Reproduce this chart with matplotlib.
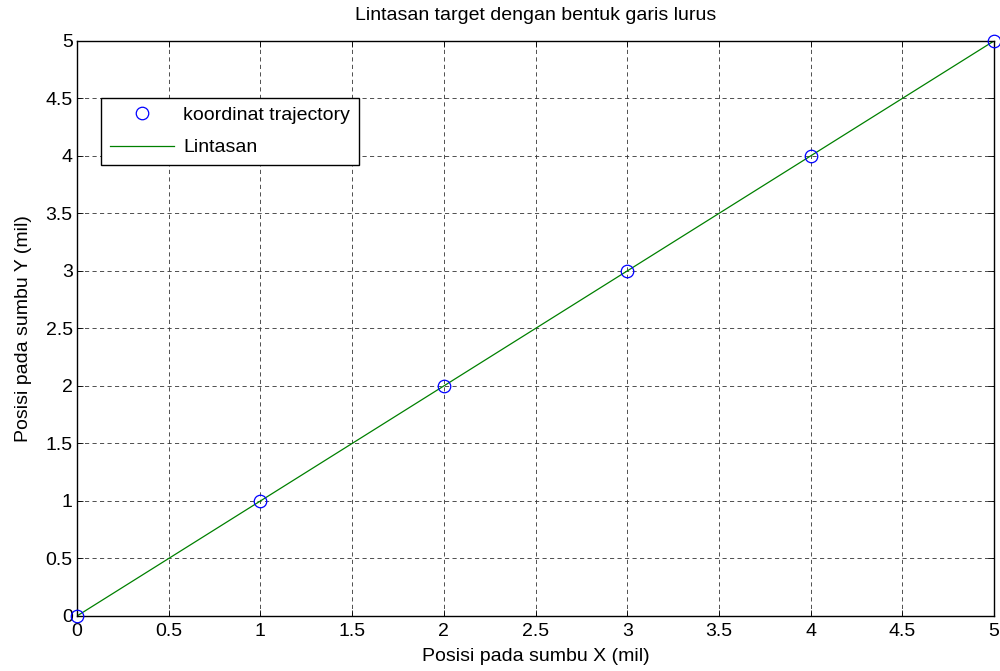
import matplotlib
matplotlib.use("Agg")
import matplotlib.pyplot as plt

# trajectory points and the straight path
x_pts = [0, 1, 2, 3, 4, 5]
y_pts = [0, 1, 2, 3, 4, 5]
x_line = [0, 5]
y_line = [0, 5]

xticks = [0, 0.5, 1, 1.5, 2, 2.5, 3, 3.5, 4, 4.5, 5]
yticks = [0, 0.5, 1, 1.5, 2, 2.5, 3, 3.5, 4, 4.5, 5]
ticklabels = ["0", "0.5", "1", "1.5", "2", "2.5", "3", "3.5", "4", "4.5", "5"]

plt.rcParams['font.family'] = ['Liberation Sans', 'DejaVu Sans']
fs = 14

fig = plt.figure(figsize=(10, 6.71), dpi=100)
ax = fig.add_axes([0.077, 0.082, 0.917, 0.857])

ax.plot(x_pts, y_pts, 'o', mfc='none', mec=(0, 0, 1), ms=9, mew=0.9,
        label='koordinat trajectory', clip_on=False, zorder=3)
ax.plot(x_line, y_line, '-', color=(0, 0.5, 0), lw=0.9, label='Lintasan', zorder=2)

ax.set_xlim(0, 5)
ax.set_ylim(0, 5)
ax.set_xticks(xticks)
ax.set_xticklabels(ticklabels)
ax.set_yticks(yticks)
ax.set_yticklabels(ticklabels)
ax.tick_params(axis='x', pad=5)
ax.tick_params(direction='in', length=4, width=0.6, labelsize=fs,
               top=True, right=True)
ax.tick_params(axis='y', pad=3)
ax.grid(True, linestyle=(0, (5, 4)), color='0.2', linewidth=0.6)
for s in ax.spines.values():
    s.set_linewidth(1.0)

ax.set_title('Lintasan target dengan bentuk garis lurus', fontsize=fs, pad=15)
ax.set_xlabel('Posisi pada sumbu X (mil)', fontsize=fs, labelpad=6)
ax.set_ylabel('Posisi pada sumbu Y (mil)', fontsize=fs, labelpad=10)

leg = ax.legend(loc='upper left', bbox_to_anchor=(0.026, 0.901), fancybox=False,
                framealpha=1, edgecolor='black', borderpad=0.45, handlelength=3.3,
                handletextpad=0.5, labelspacing=0.75, fontsize=fs,
                borderaxespad=0)
leg.get_frame().set_linewidth(1.0)

fig.savefig('out.png', dpi=100)
